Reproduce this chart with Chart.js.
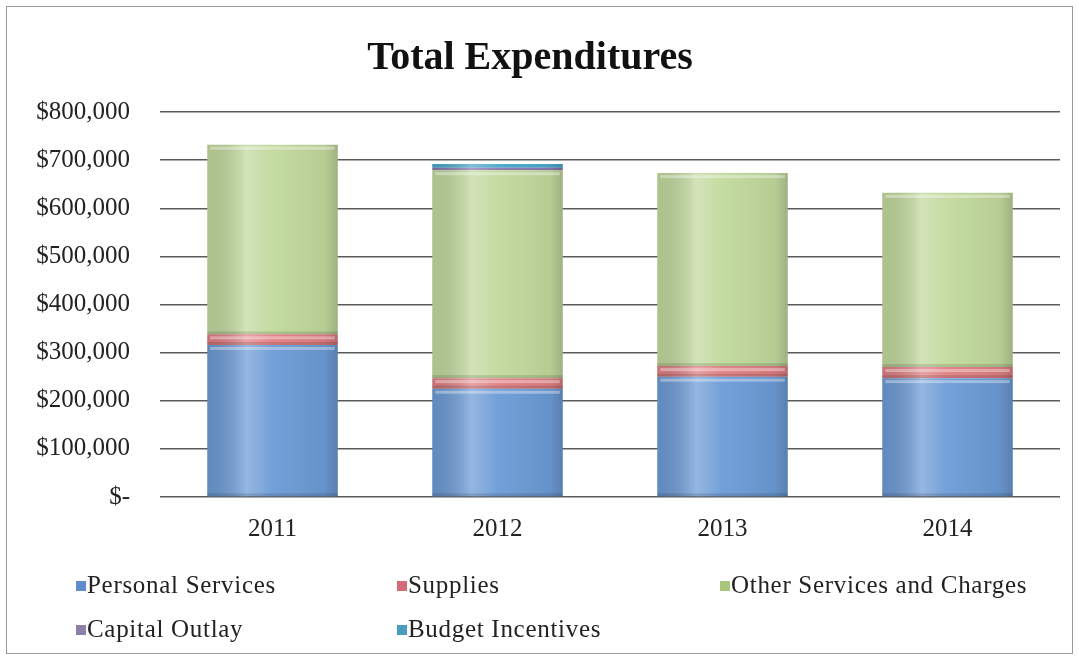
<!DOCTYPE html>
<html>
<head>
<meta charset="utf-8">
<title>Total Expenditures</title>
<script src="https://cdn.jsdelivr.net/npm/chart.js@4.4.1/dist/chart.umd.min.js"></script>
<style>
  html, body { margin: 0; padding: 0; background: #fff; }
  #wrap { position: relative; width: 1079px; height: 661px; overflow: hidden; }
  #frame { position: absolute; left: 6px; top: 6px; width: 1067px; height: 648px; border: 1px solid #9a9a9a; box-sizing: border-box; }
  #chart { position: absolute; left: 0; top: 0; }
  .legend-item { position: absolute; font-family: "Liberation Serif", "DejaVu Serif", serif; font-size: 25px; letter-spacing: 0.7px; color: #222; white-space: nowrap; line-height: 28px; }
  .legend-item span.box { display: inline-block; width: 10px; height: 10px; margin-right: 1px; vertical-align: 2px; }
</style>
</head>
<body>
<div id="wrap">
  <div id="frame"></div>
  <canvas id="chart" width="1079" height="661"></canvas>
  <div id="legend"></div>
</div>
<script>
  var years = ['2011', '2012', '2013', '2014'];

  var personalServices = [316000, 225000, 250000, 247000];
  var supplies = [22000, 22000, 22000, 23000];
  var otherServices = [394000, 432000, 401000, 362000];
  var capitalOutlay = [0, 5000, 0, 0];
  var budgetIncentives = [0, 8000, 0, 0];

  var yTicks = [0, 100000, 200000, 300000, 400000, 500000, 600000, 700000, 800000];

  var serif = '"Liberation Serif", "DejaVu Serif", serif';

  // legend layout: [left, top] of each entry, two rows
  var legendSpots = [[76, 571], [397, 571], [720, 571], [76, 615], [397, 615]];

  function money(v) {
    if (v === 0) return '$-';
    return '$' + v.toLocaleString('en-US');
  }

  // glossy shading laid over each bar segment
  var sheen = {
    id: 'sheen',
    afterDatasetsDraw: function(chart) {
      var ctx = chart.ctx;
      chart.data.datasets.forEach(function(ds, i) {
        var meta = chart.getDatasetMeta(i);
        meta.data.forEach(function(bar) {
          var p = bar.getProps(['x', 'y', 'base', 'width'], true);
          var h = p.base - p.y;
          if (h < 0.5) return;
          var left = p.x - p.width / 2;
          var g = ctx.createLinearGradient(left, 0, left + p.width, 0);
          g.addColorStop(0, 'rgba(0,0,0,0.10)');
          g.addColorStop(0.3, 'rgba(255,255,255,0.28)');
          g.addColorStop(0.5, 'rgba(255,255,255,0.05)');
          g.addColorStop(0.9, 'rgba(0,0,0,0.06)');
          g.addColorStop(1, 'rgba(0,0,0,0.18)');
          ctx.save();
          ctx.fillStyle = g;
          ctx.fillRect(left, p.y, p.width, h);
          if (h > 8) {
            ctx.fillStyle = 'rgba(255,255,255,0.35)';
            ctx.fillRect(left + 3, p.y + 2, p.width - 6, 3);
            ctx.fillStyle = 'rgba(0,0,0,0.12)';
            ctx.fillRect(left, p.base - 3, p.width, 3);
          }
          ctx.restore();
        });
      });
    }
  };

  var ctx = document.getElementById('chart').getContext('2d');
  var chart = new Chart(ctx, {
    type: 'bar',
    data: {
      labels: years,
      datasets: [
        { label: 'Personal Services', data: personalServices, backgroundColor: '#6c9bd6', legendColor: '#5f8dcb' },
        { label: 'Supplies', data: supplies, backgroundColor: '#e07f83', legendColor: '#d46a78' },
        { label: 'Other Services and Charges', data: otherServices, backgroundColor: '#c1d99d', legendColor: '#a9c67d' },
        { label: 'Capital Outlay', data: capitalOutlay, backgroundColor: '#8a78b0', legendColor: '#8c80a8' },
        { label: 'Budget Incentives', data: budgetIncentives, backgroundColor: '#4aa8cc', legendColor: '#4c9cc0' }
      ]
    },
    options: {
      responsive: false,
      animation: false,
      barPercentage: 0.58,
      categoryPercentage: 1.0,
      layout: { padding: { top: 35, right: 19, bottom: 108, left: 0 } },
      plugins: {
        legend: { display: false },
        tooltip: { enabled: false },
        title: {
          display: true,
          text: 'Total Expenditures',
          color: '#111',
          font: { family: serif, size: 40, weight: 'bold' },
          padding: { top: 0, bottom: 29 }
        }
      },
      scales: {
        x: {
          stacked: true,
          grid: { display: false },
          border: { display: false },
          ticks: { color: '#222', font: { family: serif, size: 25 }, padding: 9 }
        },
        y: {
          stacked: true,
          min: 0,
          max: 800000,
          afterFit: function(scale) { scale.width = 160; },
          afterBuildTicks: function(scale) {
            scale.ticks = yTicks.map(function(v) { return { value: v }; });
          },
          border: { display: false },
          grid: { color: '#5a5a5a', lineWidth: 1.5, drawTicks: false },
          ticks: {
            color: '#222',
            font: { family: serif, size: 25 },
            padding: 30,
            callback: function(v) { return money(v); }
          }
        }
      }
    },
    plugins: [sheen]
  });

  // legend entries in a fixed two-row grid
  var legendBox = document.getElementById('legend');
  chart.data.datasets.forEach(function(ds, i) {
    var item = document.createElement('div');
    item.className = 'legend-item';
    item.style.left = legendSpots[i][0] + 'px';
    item.style.top = legendSpots[i][1] + 'px';
    var box = document.createElement('span');
    box.className = 'box';
    box.style.background = ds.legendColor;
    item.appendChild(box);
    item.appendChild(document.createTextNode(ds.label));
    legendBox.appendChild(item);
  });
</script>
</body>
</html>
